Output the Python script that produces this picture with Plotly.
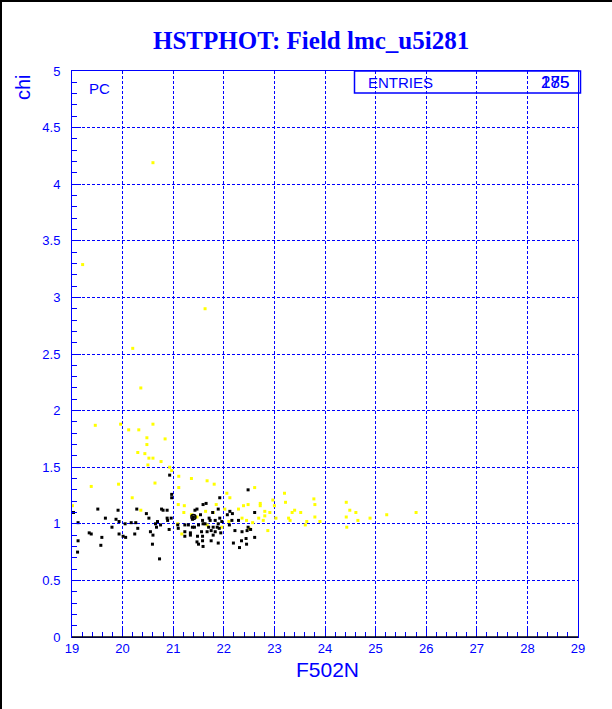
import plotly.graph_objects as go

BLUE = "#0000ff"

title_text = "HSTPHOT: Field lmc_u5i281"
x_title = "F502N"
y_title = "chi"
stat_label = "ENTRIES"
stat_values = ["175", "285"]
corner_label = "PC"

yellow_x = [19.21, 20.60, 20.20, 20.36, 21.63,
            19.46, 19.96, 20.12, 20.32, 20.30, 19.38, 19.92, 20.19, 19.01,
            20.60, 20.48, 20.48, 20.84, 20.44, 20.52, 20.60, 20.76, 20.50, 20.93, 20.97, 20.64,
            21.11, 21.36, 21.67, 21.11, 21.10, 21.22, 20.36, 21.21, 21.36, 21.47, 21.64, 21.67,
            21.17, 21.09,
            21.81, 22.61, 22.12, 22.06, 21.85, 22.39, 22.48, 22.72, 22.72, 22.97, 23.00, 21.79,
            22.02, 22.29, 22.81, 22.91, 22.81, 22.36, 22.45, 22.69, 22.78, 22.57, 22.10, 21.96,
            22.50, 22.87,
            23.20, 23.22, 23.40, 23.35, 23.52, 23.28, 23.31, 23.64, 23.78, 23.80, 23.80, 23.90,
            23.61, 23.03,
            24.42, 24.49, 24.61, 24.42, 24.65, 24.89, 24.43, 25.22, 25.80]
yellow_y = [3.29, 4.19, 2.55, 2.20, 2.90,
            1.87, 1.88, 1.83, 1.83, 1.63, 1.33, 1.35, 1.23, 1.16,
            1.88, 1.76, 1.70, 1.75, 1.62, 1.58, 1.58, 1.55, 1.52, 1.50, 1.47, 1.36,
            1.42, 1.40, 1.38, 1.32, 1.17, 1.16, 1.12, 1.10, 1.08, 1.06, 1.11, 0.99,
            0.91, 1.00,
            1.35, 1.32, 1.23, 1.27, 1.17, 1.16, 1.17, 1.18, 1.16, 1.21, 1.16, 1.10,
            1.13, 1.13, 1.11, 1.10, 1.07, 1.05, 1.03, 1.05, 1.03, 1.01, 1.02, 0.97,
            0.96, 0.94,
            1.27, 1.19, 1.12, 1.10, 1.10, 1.05, 1.03, 1.02, 1.22, 1.17, 1.06, 1.02,
            0.99, 1.05,
            1.19, 1.12, 1.10, 1.06, 1.03, 1.05, 0.97, 1.08, 1.10]

black_x = [19.03, 19.51, 19.91, 20.28, 19.66, 19.87, 19.93, 19.12, 20.05, 20.17, 20.26, 19.79,
           20.30, 19.34, 19.38, 19.59, 19.93, 20.06, 20.24, 19.12, 19.57, 19.11, 20.01,
           20.93, 20.97, 20.97, 21.65, 21.59, 21.47, 21.43, 20.77, 20.80, 20.88, 20.52, 20.47,
           20.88, 20.96, 20.89, 21.54, 21.40, 21.38, 21.58, 21.71, 20.65, 20.69, 20.75, 21.09,
           21.23, 21.30, 21.38, 21.42, 21.50, 21.59, 21.63, 20.55, 20.67, 20.92, 21.10, 21.23,
           21.34, 21.56, 21.67, 20.60, 21.23, 21.34, 21.48, 21.58, 21.47, 21.50, 21.58, 21.59,
           20.59, 20.73,
           22.48, 21.92, 21.89, 21.78, 22.12, 22.17, 22.61, 21.92, 22.07, 21.83, 21.73, 21.89,
           21.96, 22.16, 22.29, 21.70, 21.79, 21.87, 21.91, 22.11, 22.48, 22.22, 21.75, 21.83,
           21.94, 21.79, 22.36, 22.44, 21.75, 21.89, 22.19, 22.35, 22.31, 22.45, 22.61, 22.46,
           22.53]
black_y = [1.10, 1.13, 1.12, 1.13, 1.05, 1.04, 1.02, 1.01, 1.00, 1.01, 1.01, 0.97,
           0.96, 0.92, 0.91, 0.88, 0.91, 0.88, 0.91, 0.85, 0.81, 0.75, 0.89,
           1.43, 1.26, 1.23, 1.18, 1.17, 1.13, 1.12, 1.13, 1.12, 1.12, 1.05, 1.09,
           1.05, 1.05, 1.03, 1.08, 1.06, 1.04, 1.03, 1.05, 1.00, 1.02, 0.99, 0.99,
           0.99, 0.99, 0.97, 0.97, 0.99, 1.00, 1.00, 0.93, 0.97, 0.95, 0.96, 0.93,
           0.92, 0.93, 0.93, 0.90, 0.89, 0.90, 0.89, 0.89, 0.84, 0.82, 0.85, 0.80,
           0.82, 0.69,
           1.30, 1.23, 1.13, 1.10, 1.11, 1.09, 1.10, 1.05, 1.08, 1.03, 1.03, 1.00,
           1.02, 1.03, 1.03, 0.97, 0.97, 0.97, 0.96, 0.99, 0.97, 0.94, 0.94, 0.93,
           0.92, 0.90, 0.93, 0.87, 0.85, 0.83, 0.83, 0.85, 0.79, 0.82, 0.88, 0.94,
           0.95]

ring_x = [21.40]
ring_y = [1.06]

x_range = [19, 29]
y_range = [0, 5]
x_ticks = list(range(19, 30))
y_ticks = [0, 0.5, 1, 1.5, 2, 2.5, 3, 3.5, 4, 4.5, 5]
y_ticklabels = ["0", "0.5", "1", "1.5", "2", "2.5", "3", "3.5", "4", "4.5", "5"]

W, H = 612, 709
ML, MR, MT, MB = 72, 34, 71, 72
pw, ph = W - ML - MR, H - MT - MB

def px_x(p):
    return (p - ML) / pw

def px_y(p):
    return 1 - (p - MT) / ph

fig = go.Figure()
fig.add_trace(go.Scatter(x=yellow_x, y=yellow_y, mode="markers",
                         marker=dict(symbol="square", size=3, color="#ffff00", line=dict(width=0)),
                         showlegend=False, hoverinfo="skip"))
fig.add_trace(go.Scatter(x=black_x, y=black_y, mode="markers",
                         marker=dict(symbol="square", size=3, color="#000000", line=dict(width=0)),
                         showlegend=False, hoverinfo="skip"))
fig.add_trace(go.Scatter(x=ring_x, y=ring_y, mode="markers",
                         marker=dict(symbol="circle-open", size=5, color="#000000", line=dict(width=1.5)),
                         showlegend=False, hoverinfo="skip"))

tickfont = dict(family="Liberation Sans, Arial, sans-serif", size=13, color=BLUE)

fig.update_xaxes(range=x_range, tickmode="array", tickvals=x_ticks,
                 ticktext=[str(v) for v in x_ticks],
                 ticks="inside", ticklen=9, tickwidth=1, tickcolor=BLUE,
                 minor=dict(dtick=0.2, ticks="inside", ticklen=5, tickcolor=BLUE, showgrid=False),
                 showgrid=True, gridcolor=BLUE, griddash="3px,2px", gridwidth=1,
                 showline=True, linecolor=BLUE, linewidth=1, mirror=True,
                 zeroline=False, tickfont=tickfont, ticklabelstandoff=-1)
fig.update_yaxes(range=y_range, tickmode="array", tickvals=y_ticks, ticktext=y_ticklabels,
                 ticks="inside", ticklen=9, tickwidth=1, tickcolor=BLUE,
                 minor=dict(dtick=0.1, ticks="inside", ticklen=5, tickcolor=BLUE, showgrid=False),
                 showgrid=True, gridcolor=BLUE, griddash="3px,2px", gridwidth=1,
                 showline=True, linecolor=BLUE, linewidth=1, mirror=True,
                 zeroline=False, tickfont=tickfont, ticklabelstandoff=8)

ann = []
ann.append(dict(text="<b>" + title_text + "</b>", xref="paper", yref="paper",
                x=px_x(311), y=px_y(40), xanchor="center", yanchor="middle", showarrow=False,
                font=dict(family="Liberation Serif, Times New Roman, serif", size=25, color=BLUE)))
ann.append(dict(text=x_title, xref="paper", yref="paper",
                x=px_x(327), y=px_y(669), xanchor="center", yanchor="middle", showarrow=False,
                font=dict(family="Liberation Sans, Arial, sans-serif", size=21, color=BLUE)))
ann.append(dict(text=y_title, xref="paper", yref="paper", textangle=-90,
                x=px_x(23), y=px_y(87), xanchor="center", yanchor="middle", showarrow=False,
                font=dict(family="Liberation Sans, Arial, sans-serif", size=20, color=BLUE)))
ann.append(dict(text=corner_label, xref="paper", yref="paper",
                x=px_x(99), y=px_y(88), xanchor="center", yanchor="middle", showarrow=False,
                font=dict(family="Liberation Sans, Arial, sans-serif", size=15, color=BLUE)))
ann.append(dict(text=stat_label, xref="paper", yref="paper",
                x=px_x(366), y=px_y(82), xanchor="left", yanchor="middle", showarrow=False,
                font=dict(family="Liberation Sans, Arial, sans-serif", size=15, color=BLUE)))
for v in stat_values:
    ann.append(dict(text=v, xref="paper", yref="paper",
                    x=px_x(571), y=px_y(82), xanchor="right", yanchor="middle", showarrow=False,
                    font=dict(family="Liberation Sans, Arial, sans-serif", size=17, color=BLUE)))

shapes = []
# stats box
shapes.append(dict(type="rect", xref="paper", yref="paper",
                   x0=px_x(354.5), x1=px_x(580.5), y0=px_y(93), y1=px_y(71),
                   line=dict(color=BLUE, width=1.5), fillcolor="rgba(0,0,0,0)"))
# bottom axis line (black)
shapes.append(dict(type="line", xref="paper", yref="paper",
                   x0=0, x1=1, y0=0, y1=0, line=dict(color="#000000", width=1.5)))
# canvas border (left and top), drawn as thin filled bands
shapes.append(dict(type="rect", xref="paper", yref="paper",
                   x0=px_x(0), x1=px_x(2), y0=px_y(H), y1=px_y(0),
                   line=dict(width=0), fillcolor="#000000", layer="above"))
shapes.append(dict(type="rect", xref="paper", yref="paper",
                   x0=px_x(0), x1=px_x(W), y0=px_y(2), y1=px_y(0),
                   line=dict(width=0), fillcolor="#000000", layer="above"))

fig.update_layout(width=W, height=H, margin=dict(l=ML, r=MR, t=MT, b=MB, pad=0),
                  plot_bgcolor="white", paper_bgcolor="white",
                  annotations=ann, shapes=shapes, showlegend=False)

fig.write_html("out.html", config={"displayModeBar": False},
               post_script="document.body.style.margin='0px';document.body.style.overflow='hidden';")
